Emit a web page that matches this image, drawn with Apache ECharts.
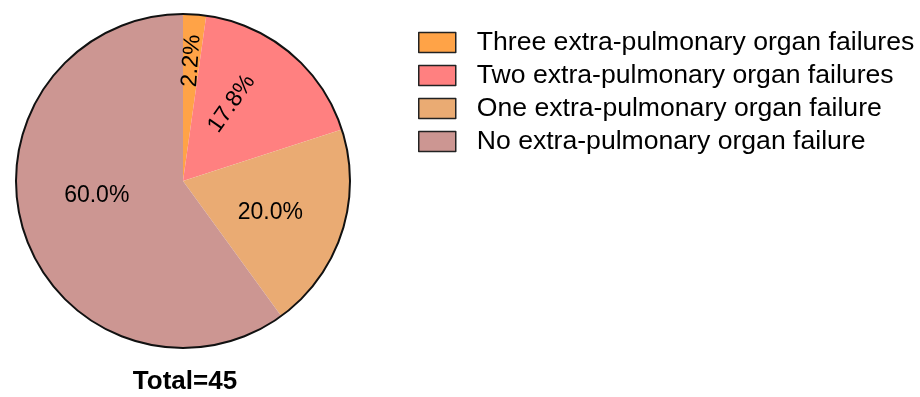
<!DOCTYPE html>
<html>
<head>
<meta charset="utf-8">
<script src="https://cdn.jsdelivr.net/npm/echarts@6/dist/echarts.min.js"></script>
<style>
  html, body { margin: 0; padding: 0; background: #fff; }
  #main { width: 920px; height: 397px; }
</style>
</head>
<body>
<div id="main"></div>
<script>
  const categories = [
    'Three extra-pulmonary organ failures',
    'Two extra-pulmonary organ failures',
    'One extra-pulmonary organ failure',
    'No extra-pulmonary organ failure'
  ]
  const counts = [1, 8, 9, 27]
  const colors = ['#ffa347', '#ff8080', '#eaab73', '#cc9692']
  const totalLabel = 'Total=45'

  const total = counts.reduce((a, b) => a + b, 0)
  const rotations = ['radial', 55, 0, 0]
  const fontFamily = '"Liberation Sans", Arial, sans-serif'

  const chart = echarts.init(document.getElementById('main'))
  chart.setOption({
    animation: false,
    title: {
      text: totalLabel,
      left: 185,
      top: 369,
      padding: 0,
      textAlign: 'center',
      textStyle: { fontSize: 26, fontWeight: 'bold', color: '#000', fontFamily }
    },
    legend: {
      data: categories,
      orient: 'vertical',
      left: 418,
      top: 29,
      padding: 0,
      icon: 'rect',
      itemWidth: 37,
      itemHeight: 20,
      itemGap: 6,
      itemStyle: { borderColor: '#222', borderWidth: 1.5 },
      textStyle: { fontSize: 26.6, color: '#000', fontFamily, padding: [0, 0, 0, 16] },
      selectedMode: false
    },
    series: [
      {
        type: 'pie',
        center: [183, 181],
        radius: 167,
        startAngle: 90,
        clockwise: true,
        data: categories.map((name, i) => ({
          name,
          value: counts[i],
          itemStyle: { color: colors[i] },
          label: { rotate: rotations[i] }
        })),
        label: {
          show: true,
          position: 'inside',
          formatter: p => (p.value / total * 100).toFixed(1) + '%',
          fontSize: 23,
          color: '#000',
          fontFamily
        },
        labelLayout: p => {
          // rotated labels take dx along the text direction
          if (p.dataIndex === 0) return { dx: 34, dy: 0 }
          if (p.dataIndex === 1) return { dx: 5, dy: -12 }
          if (p.dataIndex === 2) return { dx: 5, dy: 5 }
          if (p.dataIndex === 3) return { dx: -4, dy: -12 }
          return {}
        },
        labelLine: { show: false },
        itemStyle: { borderWidth: 0 },
        emphasis: { disabled: true }
      },
      {
        type: 'pie',
        center: [183, 181],
        radius: 167,
        silent: true,
        label: { show: false },
        labelLine: { show: false },
        data: [{ name: 'outline', value: 1 }],
        itemStyle: { color: 'rgba(0,0,0,0)', borderColor: '#111', borderWidth: 2 },
        emphasis: { disabled: true }
      }
    ]
  })
</script>
</body>
</html>
